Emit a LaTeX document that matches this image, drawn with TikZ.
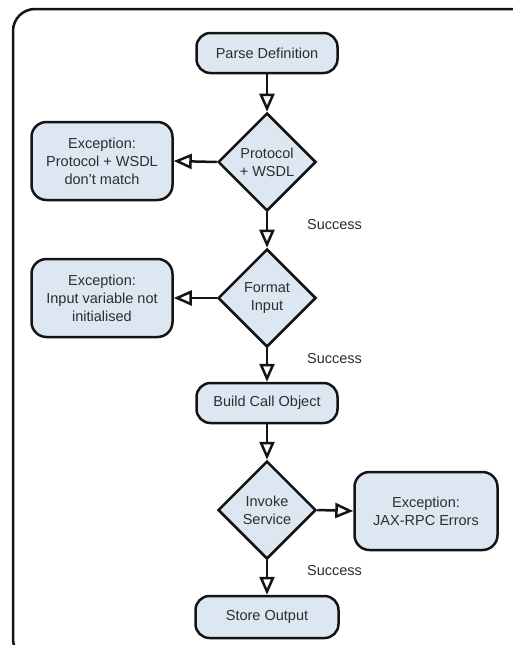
\documentclass[tikz,border=0pt]{standalone}
\usepackage{fontspec}
\setmainfont{Liberation Sans}
\usetikzlibrary{shapes.geometric,arrows.meta}
\definecolor{boxfill}{RGB}{221,231,242}
\definecolor{ink}{RGB}{20,20,20}
\definecolor{txt}{RGB}{45,45,45}
\begin{document}
\begin{tikzpicture}[x=1pt,y=-1pt,
  every node/.style={font=\fontsize{14.5}{18}\selectfont, text=txt},
  stepbox/.style={draw=ink, line width=2.5pt, fill=boxfill, rounded corners=14pt,
    minimum width=141pt, minimum height=40pt, inner sep=0pt, align=center},
  exbox/.style={draw=ink, line width=2.5pt, fill=boxfill, rounded corners=15pt,
    minimum width=141pt, minimum height=78pt, inner sep=0pt, align=center},
  decision/.style={draw=ink, line width=2.5pt, fill=boxfill, diamond, shape aspect=1,
    minimum width=98pt, minimum height=98pt, inner sep=0pt, align=center},
  flow/.style={draw=ink, line width=2.5pt,
    -{Triangle[open, length=18pt, width=15pt, line width=2.5pt]}},
  lbl/.style={anchor=west, inner sep=0pt}]
  % canvas and outer frame (it runs on past the right and bottom edges)
  \useasboundingbox (0,0) rectangle (513,645);
  \begin{scope}
    \clip (0,0) rectangle (513,645);
    \fill[white] (0,0) rectangle (513,645);
    \draw[ink, line width=2.5pt, rounded corners=22pt]
      (535,700) -- (535,9) -- (13,9) -- (13,661) -- (600,661);
  \end{scope}

  % main flow
  \node[stepbox] (parse) at (267,53) {Parse Definition};
  \node[decision] (proto) at (267,162) {Protocol\\+ WSDL};
  \node[exbox] (ex1) at (102,161) {Exception:\\Protocol + WSDL\\don't match};
  \node[decision] (fmt) at (267,298) {Format\\Input};
  \node[exbox] (ex2) at (102,298) {Exception:\\Input variable not\\initialised};
  \node[stepbox] (build) at (267,403) {Build Call Object};
  \node[decision] (invoke) at (267,510) {Invoke\\Service};
  \node[exbox, minimum width=143pt] (ex3) at (426,511) {Exception:\\JAX-RPC Errors};
  \node[stepbox, minimum width=143pt, minimum height=42pt] (store) at (267,617) {Store Output};

  % labels on the success branches
  \node[lbl] (s1) at (307,225) {Success};
  \node[lbl] (s2) at (307,359) {Success};
  \node[lbl] (s3) at (307,571) {Success};

  % connectors
  \draw[flow] (parse) -- (proto);
  \draw[flow] (proto.west) -- (ex1.east);
  \draw[flow] (proto) -- (fmt);
  \draw[flow] (fmt.west) -- (ex2.east);
  \draw[flow] (fmt) -- (build);
  \draw[flow] (build) -- (invoke);
  \draw[flow] (invoke.east) -- (ex3.west);
  \draw[flow] (invoke) -- (store);
\end{tikzpicture}
\end{document}
